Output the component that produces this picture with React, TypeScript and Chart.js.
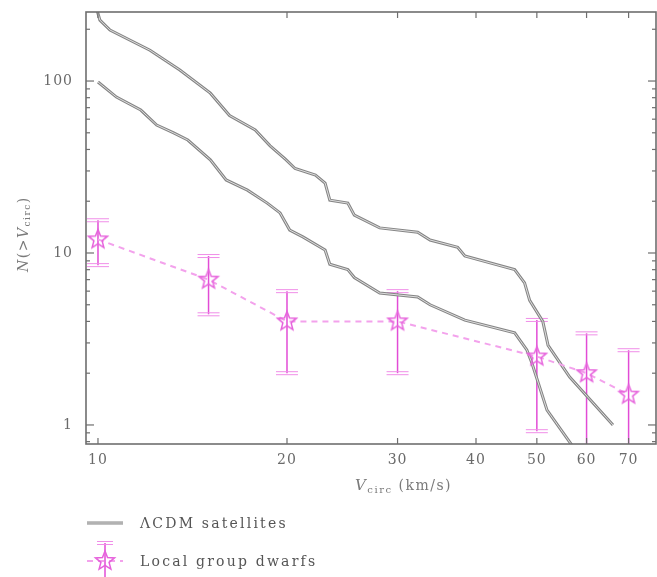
import { useEffect, useRef } from "react";
import { Chart, registerables } from "chart.js";

Chart.register(...registerables);

// Cumulative count of CDM subhaloes, upper and lower realisations
const upperV = [9.96, 10.07, 10.45, 12.1, 13.5, 15.1, 16.2, 17.8, 18.8, 19.9, 20.6, 22.2, 23.0, 23.4, 25.0, 25.6, 28.1, 32.3, 33.8, 37.4, 38.4, 46.1, 47.8, 48.7, 51.1, 52.1, 56.4, 66.1];
const upperN = [260, 226, 198, 151, 116, 85, 63, 52, 42, 35, 31, 28.4, 25.5, 20.3, 19.5, 16.6, 14.0, 13.2, 11.9, 10.8, 9.6, 8.0, 6.7, 5.3, 4.0, 2.9, 1.9, 1.0];

const lowerV = [10.0, 10.7, 11.7, 12.4, 13.2, 13.9, 15.1, 16.0, 17.3, 18.6, 19.5, 20.2, 21.2, 23.0, 23.4, 25.0, 25.6, 28.1, 32.3, 33.8, 38.4, 46.1, 48.2, 49.1, 51.9, 57.5];
const lowerN = [98.7, 80.7, 67.8, 55.5, 49.9, 45.4, 34.8, 26.6, 23.2, 19.5, 17.1, 13.6, 12.4, 10.4, 8.6, 8.0, 7.2, 5.85, 5.55, 5.0, 4.07, 3.43, 2.73, 2.29, 1.22, 0.72];

// Local group dwarf counts with Poisson error bars
const dwarfV = [10, 15, 20, 30, 50, 60, 70];
const dwarfN = [12, 7, 4, 4, 2.5, 2, 1.5];
const dwarfLo = [8.5, 4.4, 2.0, 2.0, 0.92, 0.59, 0.28];
const dwarfHi = [15.5, 9.6, 6.0, 6.0, 4.08, 3.41, 2.72];

// Axis ticks
const vTicks = [10, 20, 30, 40, 50, 60, 70];
const nTicks = [1, 10, 100];
const nMinor = [0.8, 0.9, 2, 3, 4, 5, 6, 7, 8, 9, 20, 30, 40, 50, 60, 70, 80, 90, 200];

const legendLabels = ["ΛCDM satellites", "Local group dwarfs"];

const FONT = '"DejaVu Serif"';
const AXIS = "#6e6e6e";
const LINE_DARK = "#858585";
const LINE_LIGHT = "#dedede";
const DASH = "#f3a2ec";
const ERR = "#e24cd6";
const CAP = "#f08ee8";
const STAR = "#e662dc";

function makeStar(): HTMLCanvasElement {
  const size = 26;
  const c = document.createElement("canvas");
  c.width = size;
  c.height = size;
  const g = c.getContext("2d")!;
  const cx = size / 2;
  const cy = size / 2;
  const R = 10;
  const r = 4.3;
  g.beginPath();
  for (let i = 0; i < 10; i++) {
    const ang = -Math.PI / 2 + (i * Math.PI) / 5;
    const rad = i % 2 === 0 ? R : r;
    const px = cx + rad * Math.cos(ang);
    const py = cy + rad * Math.sin(ang);
    if (i === 0) g.moveTo(px, py);
    else g.lineTo(px, py);
  }
  g.closePath();
  g.strokeStyle = STAR;
  g.lineWidth = 1.5;
  g.stroke();
  return c;
}

function seg(ctx: CanvasRenderingContext2D, x1: number, y1: number, x2: number, y2: number) {
  ctx.beginPath();
  ctx.moveTo(x1, y1);
  ctx.lineTo(x2, y2);
  ctx.stroke();
}

function errorBar(ctx: CanvasRenderingContext2D, px: number, yt: number, yb: number) {
  ctx.strokeStyle = ERR;
  ctx.lineWidth = 1.5;
  seg(ctx, px, yt, px, yb);
  ctx.strokeStyle = CAP;
  ctx.lineWidth = 1;
  for (const yy of [yt, yb]) {
    seg(ctx, px - 11, yy - 1.5, px + 11, yy - 1.5);
    seg(ctx, px - 11, yy + 1.5, px + 11, yy + 1.5);
  }
}

type Part = [string, number, number, boolean];

function drawRich(ctx: CanvasRenderingContext2D, x: number, y: number, parts: Part[]) {
  let cx = x;
  for (const [t, size, dy, italic] of parts) {
    ctx.font = `${italic ? "italic " : ""}${size}px ${FONT}`;
    ctx.fillText(t, cx, y + dy);
    cx += ctx.measureText(t).width;
  }
}

function makeDecor(star: HTMLCanvasElement) {
  return {
    id: "decor",
    beforeDraw(chart: any) {
      (chart.ctx as any).letterSpacing = "1px";
    },
    beforeDatasetsDraw(chart: any) {
      const { ctx, chartArea: a, scales } = chart;
      const x = scales.x;
      const y = scales.y;
      ctx.save();
      ctx.beginPath();
      ctx.rect(a.left, a.top, a.right - a.left, a.bottom - a.top);
      ctx.clip();
      dwarfV.forEach((v, i) => {
        errorBar(ctx, x.getPixelForValue(v), y.getPixelForValue(dwarfHi[i]), y.getPixelForValue(dwarfLo[i]));
      });
      ctx.restore();
    },
    afterDraw(chart: any) {
      const { ctx, chartArea: a, scales } = chart;
      const x = scales.x;
      const y = scales.y;
      ctx.save();

      // frame
      ctx.strokeStyle = AXIS;
      ctx.lineWidth = 1.6;
      ctx.strokeRect(a.left, a.top, a.right - a.left, a.bottom - a.top);

      // inward tick marks
      ctx.lineWidth = 1.2;
      for (const v of vTicks) {
        const px = x.getPixelForValue(v);
        seg(ctx, px, a.bottom, px, a.bottom - 6);
        seg(ctx, px, a.top, px, a.top + 6);
      }
      for (const n of nTicks) {
        const py = y.getPixelForValue(n);
        seg(ctx, a.left, py, a.left + 8, py);
        seg(ctx, a.right, py, a.right - 8, py);
      }
      for (const n of nMinor) {
        const py = y.getPixelForValue(n);
        if (py < a.top || py > a.bottom) continue;
        seg(ctx, a.left, py, a.left + 4, py);
        seg(ctx, a.right, py, a.right - 4, py);
      }

      // axis titles
      (ctx as any).letterSpacing = "1.5px";
      ctx.fillStyle = "#7a7a7a";
      ctx.textAlign = "left";
      ctx.textBaseline = "middle";
      drawRich(ctx, 355, 486, [
        ["V", 15, 0, true],
        ["circ", 10, 4, false],
        [" (km/s)", 14, 0, false],
      ]);
      ctx.save();
      ctx.translate(24, 272);
      ctx.rotate(-Math.PI / 2);
      drawRich(ctx, 0, 0, [
        ["N", 14, 0, true],
        ["(>", 14, 0, false],
        ["V", 14, 0, true],
        ["circ", 9, 4, false],
        [")", 14, 0, false],
      ]);
      ctx.restore();

      // legend
      const sx1 = 87;
      const sx2 = 123;
      const sxc = 105;
      const ly1 = 523;
      const ly2 = 561;
      ctx.strokeStyle = LINE_DARK;
      ctx.lineWidth = 3;
      seg(ctx, sx1, ly1, sx2, ly1);
      ctx.strokeStyle = LINE_LIGHT;
      ctx.lineWidth = 1;
      seg(ctx, sx1, ly1, sx2, ly1);

      ctx.strokeStyle = DASH;
      ctx.lineWidth = 2;
      ctx.setLineDash([6, 5]);
      seg(ctx, sx1, ly2, sx2, ly2);
      ctx.setLineDash([]);
      ctx.strokeStyle = ERR;
      ctx.lineWidth = 1.5;
      seg(ctx, sxc, 543, sxc, 577);
      ctx.strokeStyle = CAP;
      ctx.lineWidth = 1;
      seg(ctx, sxc - 8, 541.5, sxc + 8, 541.5);
      seg(ctx, sxc - 8, 544.5, sxc + 8, 544.5);
      ctx.drawImage(star, sxc - star.width / 2, ly2 - star.height / 2);

      (ctx as any).letterSpacing = "2.2px";
      ctx.fillStyle = "#555555";
      ctx.font = `14px ${FONT}`;
      ctx.fillText(legendLabels[0], 140, ly1 + 1);
      ctx.fillText(legendLabels[1], 140, ly2 + 1);
      ctx.restore();
    },
  };
}

export default function App() {
  const ref = useRef<HTMLCanvasElement | null>(null);

  useEffect(() => {
    const canvas = ref.current;
    if (!canvas) return;
    const star = makeStar();
    const toXY = (xs: number[], ys: number[]) => xs.map((v, i) => ({ x: v, y: ys[i] }));

    const chart = new Chart(canvas, {
      type: "line",
      data: {
        datasets: [
          {
            label: legendLabels[1],
            data: toXY(dwarfV, dwarfN),
            borderColor: DASH,
            borderWidth: 2,
            borderDash: [6, 5],
            pointStyle: star as any,
            pointRadius: 10,
            tension: 0,
          },
          {
            label: "upper-hl",
            data: toXY(upperV, upperN),
            borderColor: LINE_LIGHT,
            borderWidth: 1,
            pointRadius: 0,
            tension: 0,
          },
          {
            label: "lower-hl",
            data: toXY(lowerV, lowerN),
            borderColor: LINE_LIGHT,
            borderWidth: 1,
            pointRadius: 0,
            tension: 0,
          },
          {
            label: legendLabels[0],
            data: toXY(upperV, upperN),
            borderColor: LINE_DARK,
            borderWidth: 3,
            pointRadius: 0,
            tension: 0,
          },
          {
            label: legendLabels[0] + " (2)",
            data: toXY(lowerV, lowerN),
            borderColor: LINE_DARK,
            borderWidth: 3,
            pointRadius: 0,
            tension: 0,
          },
        ],
      },
      options: {
        responsive: false,
        animation: false,
        devicePixelRatio: 1,
        layout: { autoPadding: false, padding: { top: 12, right: 1, left: 0, bottom: 0 } },
        plugins: {
          legend: { display: false },
          tooltip: { enabled: false },
        },
        scales: {
          x: {
            type: "logarithmic",
            min: 9.57,
            max: 77.4,
            afterBuildTicks: (s: any) => {
              s.ticks = vTicks.map((v) => ({ value: v }));
            },
            afterFit: (s: any) => {
              s.height = 133;
              s.paddingLeft = 0;
              s.paddingRight = 0;
            },
            grid: { display: false, drawTicks: false },
            border: { display: false },
            ticks: {
              color: "#6a6a6a",
              font: { family: "DejaVu Serif", size: 14 },
              padding: 8,
              maxRotation: 0,
              autoSkip: false,
              callback: (v: any) => String(v),
            },
          },
          y: {
            type: "logarithmic",
            min: 0.775,
            max: 252,
            afterBuildTicks: (s: any) => {
              s.ticks = nTicks.map((v) => ({ value: v }));
            },
            afterFit: (s: any) => {
              s.width = 86;
              s.paddingTop = 0;
              s.paddingBottom = 0;
            },
            grid: { display: false, drawTicks: false },
            border: { display: false },
            ticks: {
              color: "#6a6a6a",
              font: { family: "DejaVu Serif", size: 14 },
              padding: 13,
              autoSkip: false,
              callback: (v: any) => String(v),
            },
          },
        },
      },
      plugins: [makeDecor(star)],
    });

    return () => chart.destroy();
  }, []);

  return (
    <div style={{ position: "absolute", left: 0, top: 0, width: 657, height: 577, background: "#fff" }}>
      <canvas ref={ref} width={657} height={577} style={{ display: "block" }} />
    </div>
  );
}
